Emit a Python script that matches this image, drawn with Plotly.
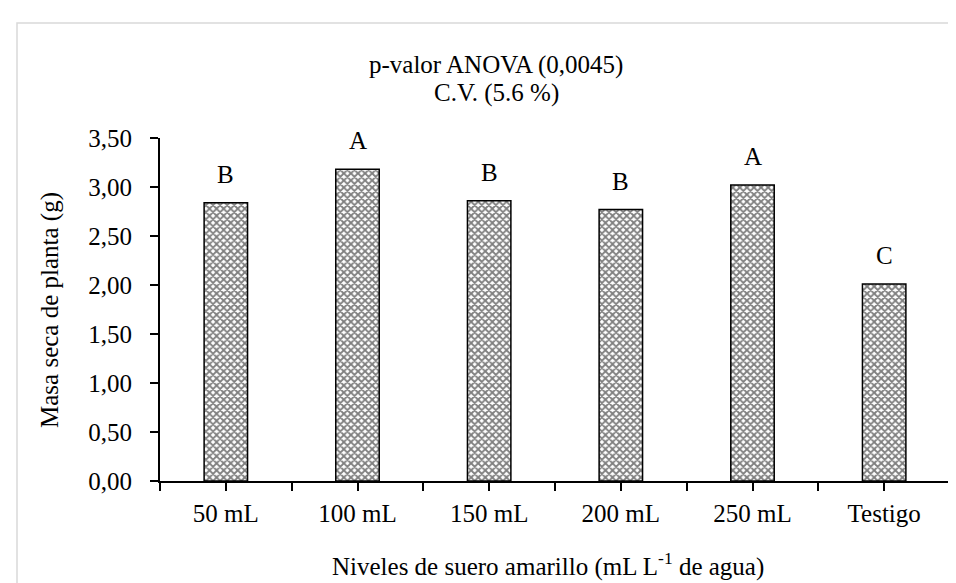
import plotly.graph_objects as go

categories = ["50 mL", "100 mL", "150 mL", "200 mL", "250 mL", "Testigo"]
values = [2.84, 3.18, 2.86, 2.77, 3.02, 2.01]
letters = ["B", "A", "B", "B", "A", "C"]
y_ticks = [0, 0.5, 1.0, 1.5, 2.0, 2.5, 3.0, 3.5]
y_tick_labels = ["0,00", "0,50", "1,00", "1,50", "2,00", "2,50", "3,00", "3,50"]

FONT = "Liberation Serif, Times New Roman, serif"
W, H = 956, 583
L, R, T, B = 152, 14, 130, 110
pw, ph = W - L - R, H - T - B

def px(x):
    return (x - L) / pw

def py(y):
    return (H - B - y) / ph

pos = list(range(len(categories)))
boundaries = [i - 0.5 for i in range(len(categories) + 1)]

fig = go.Figure()
fig.add_trace(go.Bar(
    x=pos, y=values,
    marker=dict(color="white",
                line=dict(color="black", width=1.5),
                pattern=dict(shape="x", fgcolor="black", bgcolor="white",
                             size=5, solidity=0.6, fillmode="overlay")),
    width=0.33,
))

annotations = []
for p, v, t in zip(pos, values, letters):
    annotations.append(dict(x=p, y=v, text=t, showarrow=False, xref="x", yref="y",
                            xanchor="center", yanchor="bottom", yshift=13,
                            font=dict(family=FONT, size=25, color="black")))

annotations += [
    dict(x=px(488), y=py(57), xref="paper", yref="paper", text="p-valor ANOVA (0,0045)",
         xanchor="center", yanchor="middle",
         showarrow=False, font=dict(family=FONT, size=25, color="black")),
    dict(x=px(488), y=py(85), xref="paper", yref="paper", text="C.V. (5.6 %)",
         xanchor="center", yanchor="middle",
         showarrow=False, font=dict(family=FONT, size=25, color="black")),
    dict(x=px(540), y=py(556), xref="paper", yref="paper",
         text="Niveles de suero amarillo (mL L<sup>-1</sup> de agua)",
         xanchor="center", yanchor="middle",
         showarrow=False, font=dict(family=FONT, size=25, color="black")),
    dict(x=px(42), y=py(302), xref="paper", yref="paper", text="Masa seca de planta (g)",
         xanchor="center", yanchor="middle",
         textangle=-90, showarrow=False, font=dict(family=FONT, size=25, color="black")),
]

fig.update_layout(
    width=W, height=H,
    margin=dict(l=L, r=R, t=T, b=B),
    paper_bgcolor="white", plot_bgcolor="white",
    showlegend=False,
    font=dict(family=FONT, size=25, color="black"),
    annotations=annotations,
    shapes=[dict(type="rect", xref="paper", yref="paper",
                 x0=px(9), x1=px(990), y0=py(620), y1=py(15),
                 line=dict(color="#d9d9d9", width=1.5), fillcolor="rgba(0,0,0,0)",
                 layer="below")],
)
fig.update_xaxes(range=[-0.5, len(categories) - 0.5],
                 tickvals=pos, ticktext=categories,
                 minor=dict(tickvals=boundaries, ticks="outside", ticklen=8,
                            tickwidth=2, tickcolor="black", showgrid=False),
                 showline=True, linecolor="black", linewidth=2,
                 ticks="outside", ticklen=8, tickwidth=2,
                 tickcolor="black", showgrid=False, zeroline=False,
                 ticklabelstandoff=1,
                 tickfont=dict(family=FONT, size=25))
fig.update_yaxes(range=[0, 3.5], tickvals=y_ticks, ticktext=y_tick_labels,
                 showline=True, linecolor="black", linewidth=2,
                 ticks="outside", ticklen=8, tickwidth=2, tickcolor="black",
                 showgrid=False, zeroline=False,
                 ticklabelstandoff=13,
                 tickfont=dict(family=FONT, size=25))

fig.write_html("out.html")
